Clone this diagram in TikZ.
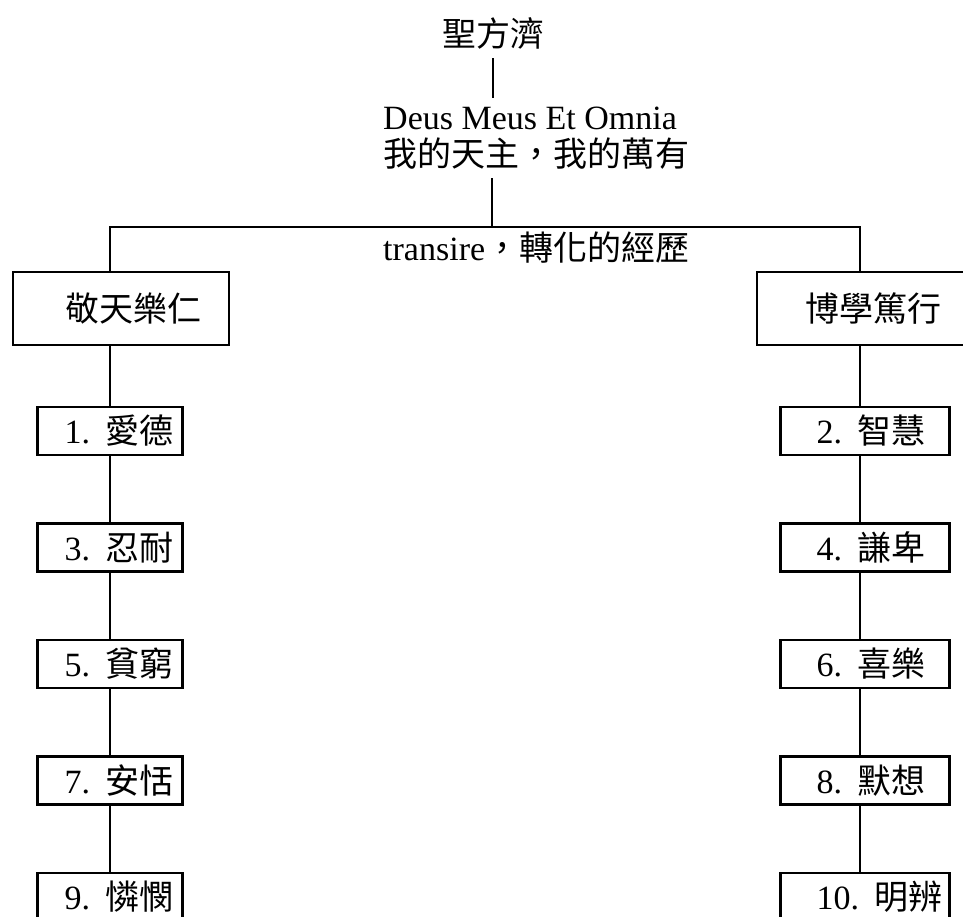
\documentclass[tikz,border=0pt]{standalone}
\usepackage{fontspec}
\setmainfont{Liberation Serif}
\newfontfamily\cjk{Noto Sans CJK TC}
\newcommand\virtue[2]{#1.\nobreak\hspace{.45em}{\cjk #2}}
\tikzset{
  line/.style={line width=1.4pt},
  plain/.style={inner xsep=0pt, inner ysep=9pt, align=left},
  lhead/.style={draw, line width=2.2pt, text width=112pt, inner xsep=52pt, inner ysep=0pt, minimum height=73pt, align=left},
  rhead/.style={draw, line width=2.2pt, text width=120pt, inner xsep=48pt, inner ysep=0pt, minimum height=73pt, align=left},
  lbox/.style={draw, line width=2.2pt, text width=91pt, inner xsep=27pt, inner ysep=0pt, minimum height=48pt, align=left},
  rbox/.style={draw, line width=2.2pt, text width=97pt, inner xsep=36pt, inner ysep=0pt, minimum height=48pt, align=left}
}

\begin{document}
\begin{tikzpicture}[x=1pt, y=1pt, font=\fontsize{34}{37}\selectfont]
\useasboundingbox (0,0) rectangle (963,917);
\clip (0,0) rectangle (963,917);

% top of the tree
\node[plain] (saint) at (493,883.5) {\cjk 聖方濟};
\node[plain, anchor=west] (motto) at (383,779) {Deus Meus Et Omnia\\{\cjk 我的天主，我的萬有}};
\node[plain, anchor=west] (transire) at (383,669) {transire{\cjk ，轉化的經歷}};

\coordinate (trunk) at (492,690);
\coordinate (barL) at (110,690);
\coordinate (barR) at (860,690);

\node[lhead] (heaven) at (121,608.5) {\cjk 敬天樂仁};
\node[rhead] (learn) at (865,608.5) {\cjk 博學篤行};

% two columns of virtues
\foreach \n/\t [count=\i] in {1/愛德,3/忍耐,5/貧窮,7/安恬,9/憐憫}
  \node[lbox] (L\i) at (110,602.5-116.5*\i) {\virtue{\n}{\t}};
\foreach \n/\t [count=\i] in {2/智慧,4/謙卑,6/喜樂,8/默想,10/明辨}
  \node[rbox] (R\i) at (865,602.5-116.5*\i) {\virtue{\n}{\t}};

\draw[line] (saint) -- (saint |- motto.north);
\draw[line] (motto.south -| trunk) -- (trunk);
\draw[line] (heaven.north -| barL) -- (barL) -- (barR) -- (learn.north -| barR);
\draw[line] (heaven.south -| barL) -- (L1.north -| barL);
\draw[line] (learn.south -| barR) -- (R1.north -| barR);
\foreach \i in {2,...,5} {
  \pgfmathtruncatemacro\p{\i-1}
  \draw[line] (L\p.south -| barL) -- (L\i.north -| barL);
  \draw[line] (R\p.south -| barR) -- (R\i.north -| barR);
}
\end{tikzpicture}
\end{document}
